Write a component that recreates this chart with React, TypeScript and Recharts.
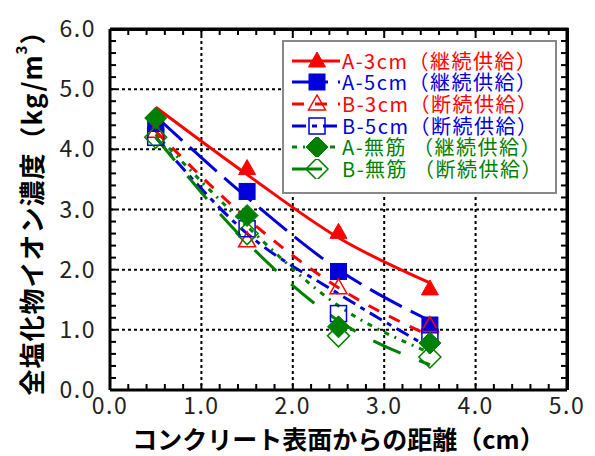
import React from 'react';
import { ComposedChart, Line, Scatter, XAxis, YAxis, CartesianGrid, Legend } from 'recharts';

// distance from surface (cm)
const distances = [0.5, 1.5, 2.5, 3.5];

// measured points
const a3Points = [4.45, 3.68, 2.62, 1.68];
const a5Points = [4.43, 3.3, 1.97, 1.08];
const b3Points = [4.3, 2.48, 1.7, 1.07];
const b5Points = [4.2, 2.68, 1.27, 0.88];
const aPlainPoints = [4.52, 2.9, 1.05, 0.78];
const bPlainPoints = [4.2, 2.6, 0.9, 0.55];

// fitted curves
const a3Curve = [4.7, 3.58, 2.53, 1.78];
const a5Curve = [4.55, 3.2, 2.0, 1.15];
const b3Curve = [4.3, 2.85, 1.7, 0.9];
const b5Curve = [4.2, 2.6, 1.6, 0.7];
const aPlainCurve = [4.25, 2.72, 1.4, 0.62];
const bPlainCurve = [4.2, 2.45, 1.15, 0.42];

const labels = [
  'A-3cm（継続供給）',
  'A-5cm（継続供給）',
  'B-3cm（断続供給）',
  'B-5cm（断続供給）',
  'A-無筋 （継続供給）',
  'B-無筋 （断続供給）',
];

const xTicks = [0, 0.2, 0.4, 0.6, 0.8, 1, 1.2, 1.4, 1.6, 1.8, 2, 2.2, 2.4, 2.6, 2.8, 3, 3.2, 3.4, 3.6, 3.8, 4, 4.2, 4.4, 4.6, 4.8, 5];
const yTicks = [0, 0.2, 0.4, 0.6, 0.8, 1, 1.2, 1.4, 1.6, 1.8, 2, 2.2, 2.4, 2.6, 2.8, 3, 3.2, 3.4, 3.6, 3.8, 4, 4.2, 4.4, 4.6, 4.8, 5, 5.2, 5.4, 5.6, 5.8, 6];
const xGrid = [1, 2, 3, 4];
const yGrid = [1, 2, 3, 4, 5];
const X_MAX = 5;
const Y_MAX = 6;

const RED = '#ff0000';
const BLUE = '#0000d8';
const GREEN = '#008000';
const FONT = '"Noto Sans CJK JP", sans-serif';

// chart frame margins
const M_TOP = 29;
const M_RIGHT = 28;
const Y_AXIS_W = 110;
const X_AXIS_H = 66;
const W = 595;
const H = 456;

type Kind = 'triangle' | 'square' | 'diamond';

const toRows = (vals: number[]) => distances.map((x, i) => ({ x, y: vals[i] }));
// top and right edges of the plot frame
const frameRows = [{ x: 0, y: Y_MAX }, { x: X_MAX, y: Y_MAX }, { x: X_MAX, y: 0 }];
const topTickRows = xTicks.map((t) => ({ x: t, y: Y_MAX }));
const rightTickRows = yTicks.map((t) => ({ x: X_MAX, y: t }));

const series = [
  { label: labels[0], color: RED, kind: 'triangle' as Kind, filled: true, dash: undefined, points: a3Points, curve: a3Curve },
  { label: labels[1], color: BLUE, kind: 'square' as Kind, filled: true, dash: '36 10', points: a5Points, curve: a5Curve },
  { label: labels[2], color: RED, kind: 'triangle' as Kind, filled: false, dash: '12 11', points: b3Points, curve: b3Curve },
  { label: labels[3], color: BLUE, kind: 'square' as Kind, filled: false, dash: '14 6 5 6', points: b5Points, curve: b5Curve },
  { label: labels[4], color: GREEN, kind: 'diamond' as Kind, filled: true, dash: '5 6 2 6', points: aPlainPoints, curve: aPlainCurve },
  { label: labels[5], color: GREEN, kind: 'diamond' as Kind, filled: false, dash: '30 20', points: bPlainPoints, curve: bPlainCurve },
];

const marker = (kind: Kind, color: string, filled: boolean, cx: number, cy: number) => {
  const fill = filled ? color : 'none';
  const sw = filled ? 1 : 1.5;
  if (kind === 'triangle') {
    return <polygon points={`${cx},${cy - 9} ${cx - 8.5},${cy + 6} ${cx + 8.5},${cy + 6}`} fill={fill} stroke={color} strokeWidth={sw} />;
  }
  if (kind === 'square') {
    return <rect x={cx - 8} y={cy - 8} width={16} height={16} fill={fill} stroke={color} strokeWidth={sw} />;
  }
  return <polygon points={`${cx},${cy - 11} ${cx + 11},${cy} ${cx},${cy + 11} ${cx - 11},${cy}`} fill={fill} stroke={color} strokeWidth={sw} />;
};

const XTick = (props: any) => {
  const { x, y, payload } = props;
  const v = payload.value;
  if (Math.abs(v - Math.round(v)) > 0.001) return <g />;
  return (
    <text x={x} y={y} dy={18} textAnchor="middle" fontFamily={FONT} fontSize={23} letterSpacing={1.5} fill="#222">
      {v.toFixed(1)}
    </text>
  );
};

const YTick = (props: any) => {
  const { x, y, payload } = props;
  const v = payload.value;
  if (Math.abs(v - Math.round(v)) > 0.001) return <g />;
  return (
    <text x={x} y={y} dy={8} textAnchor="end" fontFamily={FONT} fontSize={23} letterSpacing={1.5} fill="#222">
      {v.toFixed(1)}
    </text>
  );
};

// inward tick marks on the top and right frame
const topTick = (p: any) => <line x1={p.cx} y1={p.cy} x2={p.cx} y2={p.cy + 6} stroke="#000" strokeWidth={2} />;
const rightTick = (p: any) => <line x1={p.cx} y1={p.cy} x2={p.cx - 6} y2={p.cy} stroke="#000" strokeWidth={2} />;

const YTitle = (props: any) => {
  const vb = props.viewBox;
  const cx = 30;
  const cy = vb.y + vb.height / 2 - 3;
  return (
    <text x={cx} y={cy} transform={`rotate(-90 ${cx} ${cy})`} textAnchor="middle" dominantBaseline="central"
      fontFamily={FONT} fontSize={26} fontWeight="bold" letterSpacing={1} fill="#000">
      全塩化物イオン濃度（kg/m<tspan fontSize={15} dy={-10}>3</tspan><tspan dy={10}>）</tspan>
    </text>
  );
};

const XTitle = (props: any) => {
  const vb = props.viewBox;
  return (
    <text x={vb.x + vb.width / 2} y={vb.y + 59} textAnchor="middle" fontFamily={FONT} fontSize={25} fontWeight="bold" fill="#000">
      コンクリート表面からの距離（cm）
    </text>
  );
};

const LegendBox = () => (
  <div style={{ width: 271, height: 142, border: '2px solid #888', background: '#fff', paddingTop: 8, boxSizing: 'content-box' }}>
    {series.map((s) => (
      <div key={s.label} style={{ display: 'flex', alignItems: 'center', height: 21.6 }}>
        <svg width={58} height={20} style={{ flex: 'none' }}>
          <line x1={8} x2={56} y1={10} y2={10} stroke={s.color} strokeWidth={3} strokeDasharray={s.dash} />
          {marker(s.kind, s.color, s.filled, 33, 10)}
        </svg>
        <span style={{ color: s.color, fontFamily: FONT, fontSize: 20, lineHeight: '18px', whiteSpace: 'nowrap', letterSpacing: 1.5 }}>{s.label}</span>
      </div>
    ))}
  </div>
);

export default function App() {
  return (
    <div style={{ position: 'absolute', left: 0, top: 0, width: W, height: H, background: '#fff' }}>
      <ComposedChart width={W} height={H} margin={{ top: M_TOP, right: M_RIGHT, left: 0, bottom: 0 }}>
        <CartesianGrid verticalValues={xGrid} horizontalValues={yGrid} stroke="#000" strokeWidth={2} strokeDasharray="3 3" />
        <XAxis dataKey="x" type="number" domain={[0, X_MAX]} ticks={xTicks} interval={0} height={X_AXIS_H}
          axisLine={{ stroke: '#000', strokeWidth: 3 }} tickLine={{ stroke: '#000', strokeWidth: 2 }} tickSize={-6} tickMargin={12}
          tick={<XTick />} label={<XTitle />} />
        <YAxis type="number" domain={[0, Y_MAX]} ticks={yTicks} interval={0} width={Y_AXIS_W}
          axisLine={{ stroke: '#000', strokeWidth: 3 }} tickLine={{ stroke: '#000', strokeWidth: 2 }} tickSize={-6} tickMargin={20}
          tick={<YTick />} label={<YTitle />} />
        <Line data={frameRows} dataKey="y" type="linear" stroke="#000" strokeWidth={3} dot={false} activeDot={false}
          isAnimationActive={false} legendType="none" />
        <Scatter data={topTickRows} dataKey="y" shape={topTick} isAnimationActive={false} legendType="none" />
        <Scatter data={rightTickRows} dataKey="y" shape={rightTick} isAnimationActive={false} legendType="none" />
        {series.map((s) => (
          <Line key={'c' + s.label} data={toRows(s.curve)} dataKey="y" type="monotone"
            stroke={s.color} strokeWidth={3} strokeDasharray={s.dash} dot={false} activeDot={false} isAnimationActive={false} />
        ))}
        {series.map((s) => (
          <Scatter key={'p' + s.label} data={toRows(s.points)} dataKey="y"
            shape={(p: any) => marker(s.kind, s.color, s.filled, p.cx, p.cy)} isAnimationActive={false} />
        ))}
        <Legend layout="vertical" align="center" verticalAlign="middle" content={<LegendBox />}
          wrapperStyle={{ left: 282, top: 40, width: 275, height: 146 }} />
      </ComposedChart>
      {/* plot frame: top and right edges, matching the axis margins */}
      <div style={{
        position: 'absolute', pointerEvents: 'none', boxSizing: 'border-box',
        left: Y_AXIS_W, top: M_TOP - 1.5, width: W - M_RIGHT - Y_AXIS_W + 1.5, height: H - X_AXIS_H - M_TOP + 1.5,
        borderTop: '3px solid #000', borderRight: '3px solid #000',
      }} />
    </div>
  );
}
